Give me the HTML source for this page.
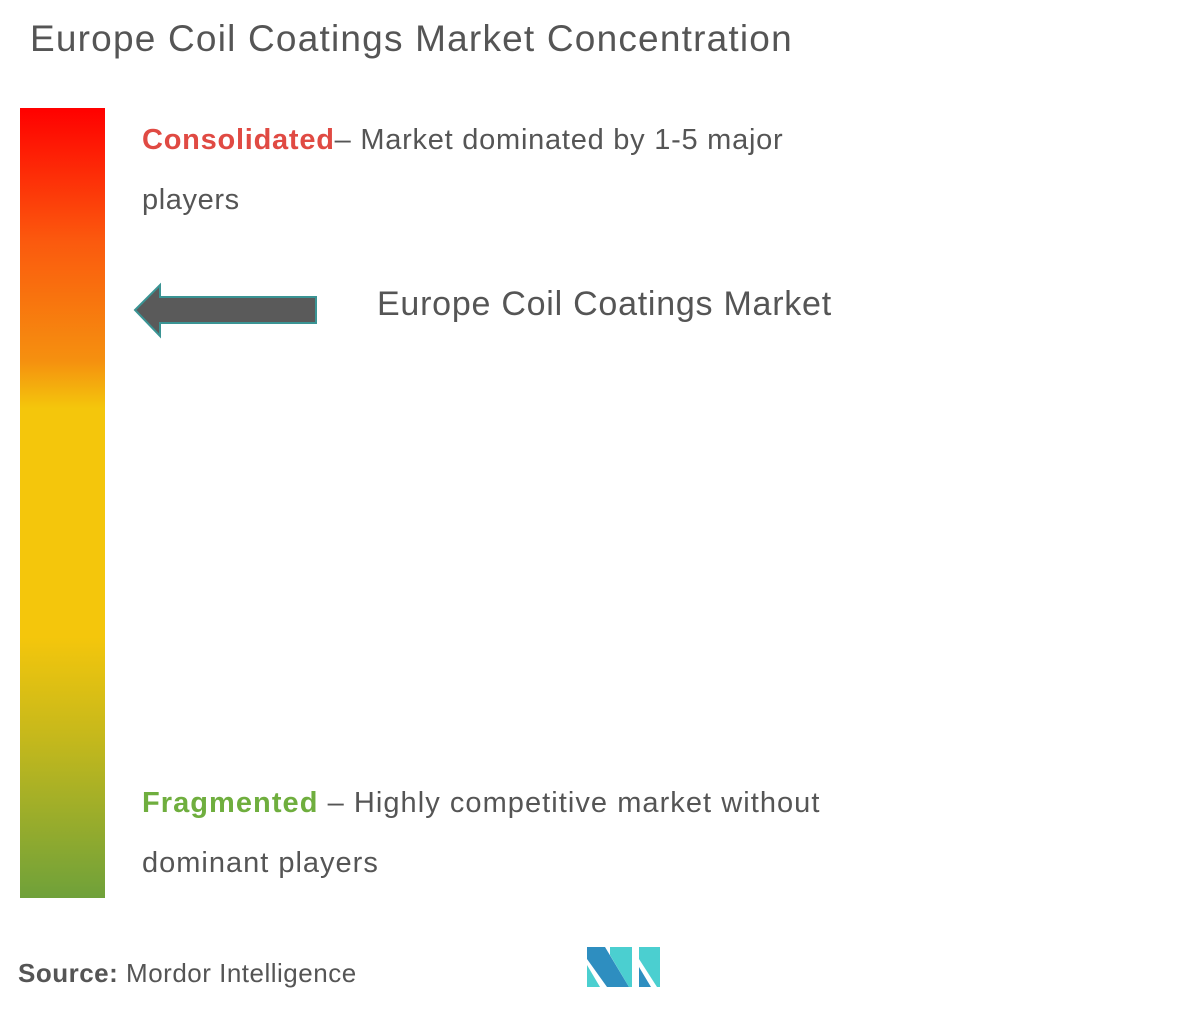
<!DOCTYPE html>
<html><head><meta charset="utf-8"><style>
body{margin:0;width:1187px;height:1010px;background:#fff;font-family:"Liberation Sans",sans-serif;color:#555;position:relative;overflow:hidden}
.t{position:absolute;white-space:nowrap}
</style></head><body>
<div class="t" style="left:30px;top:18px;font-size:37px;color:#555;letter-spacing:1.2px">Europe Coil Coatings Market Concentration</div>
<div style="position:absolute;left:20px;top:108px;width:85px;height:790px;background:linear-gradient(#ff0000 0%,#fb5a0e 17%,#f5900f 32%,#f4c60c 38%,#f4c60c 67%,#c4b81c 80%,#6fa13a 100%)"></div>
<div class="t" style="left:142px;top:124px;font-size:29px;letter-spacing:0.75px"><b style="color:#e04a43">Consolidated</b>– Market dominated by 1-5 major</div>
<div class="t" style="left:142px;top:184px;font-size:29px;letter-spacing:0.6px">players</div>
<svg style="position:absolute;left:0;top:0" width="400" height="400"><polygon points="135,310 160,285 160,297 316,297 316,323 160,323 160,336" fill="#5a5a5a" stroke="#3a9494" stroke-width="2"/></svg>
<div class="t" style="left:377px;top:285px;font-size:34px;letter-spacing:0.75px">Europe Coil Coatings Market</div>
<div class="t" style="left:142px;top:787px;font-size:29px;letter-spacing:1.05px"><b style="color:#6fae3e">Fragmented</b> – Highly competitive market without</div>
<div class="t" style="left:142px;top:847px;font-size:29px;letter-spacing:1px">dominant players</div>
<div class="t" style="left:18px;top:958px;font-size:26px;letter-spacing:0.5px"><b>Source:</b> Mordor Intelligence</div>
<svg style="position:absolute;left:587px;top:947px" width="73" height="40">
<polygon points="0,0 18,0 42,40 20,40 0,12" fill="#2e8ec0"/>
<polygon points="0,18 13,40 0,40" fill="#4bcfd0"/>
<polygon points="23,0 45,0 45,40 42,40 23,8" fill="#4bcfd0"/>
<polygon points="52,0 73,0 73,40 70,40 52,12" fill="#4bcfd0"/>
<polygon points="52,20 64,40 52,40" fill="#2e8ec0"/>
</svg>
</body></html>
